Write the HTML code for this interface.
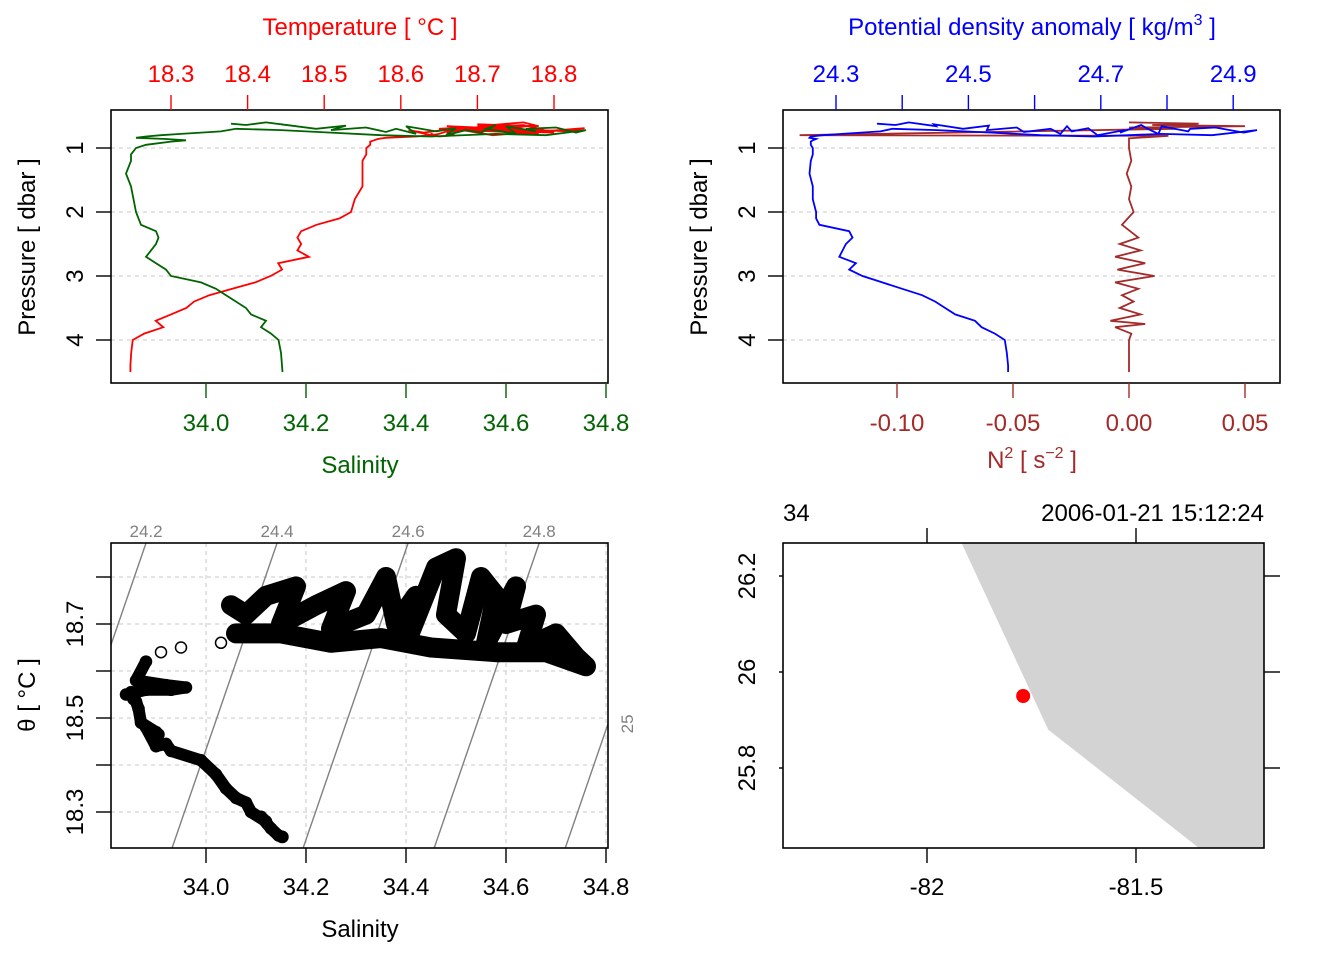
<!DOCTYPE html>
<html><head><meta charset="utf-8"><style>
html,body{margin:0;padding:0;background:#fff}
svg{display:block;font-family:"Liberation Sans",sans-serif}
</style></head><body>
<svg id="root" width="1344" height="960" viewBox="0 0 1344 960" xmlns="http://www.w3.org/2000/svg">
<defs>
<clipPath id="c1"><rect x="111" y="110" width="497" height="273"/></clipPath>
<clipPath id="c2"><rect x="783" y="110" width="497" height="273"/></clipPath>
<clipPath id="c3"><rect x="111" y="543" width="497" height="305"/></clipPath>
<clipPath id="c4"><rect x="783" y="543" width="481" height="305"/></clipPath>
</defs>
<g id="p1"></g>
<g id="p2"></g>
<g id="p3"></g>
<g id="p4"></g>
</svg>
<script>
// ---- profile data ----
const pressure = [0.62,0.64,0.60,0.66,0.63,0.70,0.65,0.72,0.68,0.75,0.70,0.78,0.66,0.74,0.69,0.80,0.72,0.76,0.64,0.70,0.78,0.66,0.74,0.70,0.68,0.76,0.72,0.80,0.78,0.82,0.80,0.76,0.72,0.70,0.74,0.78,0.80,0.82,
 0.84,0.86,0.88,0.90,0.95,1.0,1.1,1.2,1.4,1.6,1.8,2.0,2.1,2.2,2.3,2.4,2.5,2.6,2.7,2.8,2.9,3.0,3.1,3.2,3.3,3.4,3.5,3.6,3.7,3.8,3.9,4.0,4.2,4.4,4.5];
const salinity = [34.05,34.08,34.12,34.18,34.15,34.22,34.28,34.25,34.32,34.36,34.38,34.42,34.40,34.46,34.50,34.48,34.52,34.55,34.58,34.56,34.62,34.60,34.66,34.64,34.70,34.74,34.76,34.68,34.58,34.45,34.35,34.25,34.15,34.06,34.03,33.95,33.91,33.88,
 33.86,33.92,33.96,33.93,33.88,33.86,33.85,33.85,33.84,33.85,33.855,33.86,33.865,33.87,33.90,33.905,33.90,33.89,33.88,33.90,33.92,33.93,33.99,34.02,34.04,34.06,34.08,34.09,34.12,34.11,34.13,34.145,34.15,34.152,34.153];
const temperature = [18.74,18.72,18.76,18.78,18.70,18.74,18.77,18.69,18.72,18.80,18.70,18.76,18.66,18.82,18.84,18.72,18.68,18.80,18.76,18.66,18.78,18.70,18.72,18.65,18.68,18.63,18.61,18.64,18.64,18.65,18.67,18.66,18.68,18.68,18.66,18.65,18.64,18.62,
 18.58,18.57,18.565,18.56,18.56,18.555,18.555,18.55,18.55,18.55,18.54,18.535,18.52,18.49,18.47,18.465,18.47,18.465,18.48,18.44,18.445,18.43,18.41,18.38,18.35,18.33,18.32,18.30,18.28,18.29,18.265,18.25,18.248,18.247,18.247];
const sigmaTheta = [24.362,24.39,24.41,24.451,24.448,24.492,24.531,24.528,24.573,24.584,24.624,24.639,24.649,24.656,24.681,24.695,24.736,24.729,24.761,24.771,24.787,24.792,24.832,24.835,24.873,24.916,24.936,24.868,24.791,24.69,24.609,24.535,24.453,24.385,24.367,24.309,24.28,24.262,
 24.26,24.27,24.265,24.262,24.262,24.265,24.265,24.262,24.26,24.265,24.265,24.27,24.27,24.275,24.32,24.325,24.315,24.31,24.305,24.33,24.32,24.34,24.37,24.40,24.43,24.45,24.465,24.48,24.51,24.52,24.54,24.555,24.558,24.56,24.56];
const n2Pressure = [0.60,0.62,0.64,0.66,0.68,0.70,0.80,0.81,0.85,1.0,1.2,1.4,1.6,1.8,2.0,2.2,2.4,2.5,2.6,2.7,2.8,2.9,3.0,3.1,3.2,3.3,3.4,3.5,3.6,3.7,3.75,3.8,3.9,4.0,4.2,4.5];
const n2 = [0,0.03,0.01,0.05,0.0,0.02,-0.142,0.017,0.0,0.0,0.001,-0.001,0.001,0.0,0.002,-0.003,0.004,-0.004,0.005,-0.006,0.007,-0.005,0.011,-0.006,0.004,-0.003,0.002,-0.004,0.005,-0.008,0.007,-0.006,0.001,0,0,0];
const pTicks = [1,2,3,4];
const tTicks = [18.3,18.4,18.5,18.6,18.7,18.8];
const sTicks = [34.0,34.2,34.4,34.6,34.8];
const sigTicks = [24.3,24.4,24.5,24.6,24.7,24.8,24.9];
const sigLabels = [24.3,24.5,24.7,24.9];
const n2Ticks = [-0.10,-0.05,0.00,0.05];
const thetaTicks = [18.3,18.4,18.5,18.6,18.7,18.8];
const thetaLabels = [18.3,18.5,18.7];
const sigmaLevels = [24.2,24.4,24.6,24.8,25.0];
const lonTicks = [-82,-81.5];
const latTicks = [26.2,26,25.8];
const stationLon = -81.77;
const stationLat = 25.95;
const coastLon = [-81.95,-81.71,-81.33];
const coastLat = [26.33,25.88,25.62];
const NSURF = 38;

// ---- scales ----
const yP = p => 148 + (p-1)*64;
const xS = s => 206 + (s-34)*500;
const xT = t => 171 + (t-18.3)*766;
const xSig = g => 836 + (g-24.3)*662;
const xN = n => 1129 + n*2320;
const yTh = t => 812 - (t-18.3)*470;
const xLon = l => 927 + (l+82)*418;
const yLat = a => 672 - (a-26)*480;

const NS='http://www.w3.org/2000/svg';
function mk(parent, tag, attrs, text){
  const e=document.createElementNS(NS,tag);
  for(const k in attrs) e.setAttribute(k,attrs[k]);
  if(text!==undefined) e.textContent=text;
  parent.appendChild(e); return e;
}
function pathOf(xs, ys){ return xs.map((x,i)=>(i?'L':'M')+x.toFixed(1)+','+ys[i].toFixed(1)).join(''); }
const p1=document.getElementById('p1'),p2=document.getElementById('p2'),p3=document.getElementById('p3'),p4=document.getElementById('p4');
const F=24;

// ===== Panel 1 =====
pTicks.forEach(p=>{
  const g=mk(p1,'line',{x1:111,x2:608,y1:yP(p),y2:yP(p),stroke:'#d3d3d3','stroke-width':1.3,'stroke-dasharray':'4,4'});
  
  
});
const cp1=mk(p1,'g',{'clip-path':'url(#c1)'});
let e=mk(cp1,'path',{d:pathOf(temperature.map(xT),pressure.map(yP)),fill:'none',stroke:'#ff0000','stroke-width':1.8});


e=mk(cp1,'path',{d:pathOf(salinity.map(xS),pressure.map(yP)),fill:'none',stroke:'#006400','stroke-width':1.8});


e=mk(p1,'rect',{x:111,y:110,width:497,height:273,fill:'none',stroke:'#000','stroke-width':1.6});


tTicks.forEach(t=>{
  mk(p1,'line',{x1:xT(t),x2:xT(t),y1:95,y2:110,stroke:'#ff0000','stroke-width':1.4});
  const l=mk(p1,'text',{x:xT(t),y:82,'text-anchor':'middle','font-size':F,fill:'#ff0000'},t.toFixed(1));
  
  
});
e=mk(p1,'text',{x:360,y:35,'text-anchor':'middle','font-size':F,fill:'#ff0000'},'Temperature [ °C ]');


sTicks.forEach(s=>{
  mk(p1,'line',{x1:xS(s),x2:xS(s),y1:383,y2:398,stroke:'#006400','stroke-width':1.4});
  const l=mk(p1,'text',{x:xS(s),y:431,'text-anchor':'middle','font-size':F,fill:'#006400'},s.toFixed(1));
  
  
});
e=mk(p1,'text',{x:360,y:473,'text-anchor':'middle','font-size':F,fill:'#006400'},'Salinity');



function leftAxis(par, ticks, yf, x0, labX, labs){
  ticks.forEach(v=>{
    mk(par,'line',{x1:x0-15,x2:x0,y1:yf(v),y2:yf(v),stroke:'#000','stroke-width':1.4});
  });
  labs.forEach(v=>{
    const l=mk(par,'text',{x:labX,y:yf(v),'text-anchor':'middle','font-size':F,transform:`rotate(-90 ${labX} ${yf(v)})`},String(v));
    
    
  });
}
leftAxis(p1,pTicks,yP,111,83,pTicks);
e=mk(p1,'text',{x:35,y:247,'text-anchor':'middle','font-size':F,transform:'rotate(-90 35 247)'},'Pressure [ dbar ]');



// ===== Panel 2 =====
pTicks.forEach(p=>{
  const g=mk(p2,'line',{x1:783,x2:1280,y1:yP(p),y2:yP(p),stroke:'#d3d3d3','stroke-width':1.3,'stroke-dasharray':'4,4'});
  
  
});
const cp2=mk(p2,'g',{'clip-path':'url(#c2)'});
e=mk(cp2,'path',{d:pathOf(n2.map(xN),n2Pressure.map(yP)),fill:'none',stroke:'#a52a2a','stroke-width':1.8});


e=mk(cp2,'path',{d:pathOf(sigmaTheta.map(xSig),pressure.map(yP)),fill:'none',stroke:'#0000ff','stroke-width':1.8});


e=mk(p2,'rect',{x:783,y:110,width:497,height:273,fill:'none',stroke:'#000','stroke-width':1.6});


sigTicks.forEach(g=>{
  mk(p2,'line',{x1:xSig(g),x2:xSig(g),y1:95,y2:110,stroke:'#0000ff','stroke-width':1.4});
});
sigLabels.forEach(g=>{
  const l=mk(p2,'text',{x:xSig(g),y:82,'text-anchor':'middle','font-size':F,fill:'#0000ff'},g.toFixed(1));
  
  
});
e=mk(p2,'text',{x:1032,y:35,'text-anchor':'middle','font-size':F,fill:'#0000ff'});
e.innerHTML='Potential density anomaly [ kg/m<tspan dy="-10" font-size="16">3</tspan><tspan dy="10"> ]</tspan>';


n2Ticks.forEach(n=>{
  mk(p2,'line',{x1:xN(n),x2:xN(n),y1:383,y2:398,stroke:'#a52a2a','stroke-width':1.4});
  const l=mk(p2,'text',{x:xN(n),y:431,'text-anchor':'middle','font-size':F,fill:'#a52a2a'},n.toFixed(2));
  
  
});
e=mk(p2,'text',{x:1032,y:468,'text-anchor':'middle','font-size':F,fill:'#a52a2a'});
e.innerHTML='N<tspan dy="-10" font-size="16">2</tspan><tspan dy="10"> [ s</tspan><tspan dy="-10" font-size="16">−2</tspan><tspan dy="10"> ]</tspan>';


leftAxis(p2,pTicks,yP,783,755,pTicks);
e=mk(p2,'text',{x:707,y:247,'text-anchor':'middle','font-size':F,transform:'rotate(-90 707 247)'},'Pressure [ dbar ]');



// ===== Panel 3 TS =====
sTicks.forEach(s=>{
  const g=mk(p3,'line',{x1:xS(s),x2:xS(s),y1:543,y2:848,stroke:'#d3d3d3','stroke-width':1.3,'stroke-dasharray':'4,4'});
  
  
});
thetaTicks.forEach(t=>{
  const g=mk(p3,'line',{x1:111,x2:608,y1:yTh(t),y2:yTh(t),stroke:'#d3d3d3','stroke-width':1.3,'stroke-dasharray':'4,4'});
  
  
});
const cp3=mk(p3,'g',{'clip-path':'url(#c3)'});
const sOfSig=(lev,t)=>33.932+(lev-24.4+0.247*(t-18.223))/0.763;
const tTop=18.3+(812-543)/470;
const sRight=(608-206)/500+34;
sigmaLevels.forEach(lev=>{
  const tb=18.1,tt=18.95;
  const l=mk(cp3,'line',{x1:xS(sOfSig(lev,tb)),y1:yTh(tb),x2:xS(sOfSig(lev,tt)),y2:yTh(tt),stroke:'#808080','stroke-width':1.4});
  
  
  const xt=xS(sOfSig(lev,tTop));
  if(xt<608){
    const lb=mk(p3,'text',{x:xt,y:537,'text-anchor':'middle','font-size':17,fill:'#808080'},lev.toFixed(1));
    
    
  } else {
    const tr=18.223+(0.763*(sRight-33.932)-(lev-24.4))/0.247;
    const yr=yTh(tr);
    const lb=mk(p3,'text',{x:633,y:yr,'text-anchor':'middle','font-size':17,fill:'#808080',transform:`rotate(-90 633 ${yr})`},lev===25?'25':String(lev));
    
    
  }
});
const sx=salinity.map(xS), ty=temperature.map(yTh);
e=mk(cp3,'path',{d:pathOf(sx.slice(NSURF-1),ty.slice(NSURF-1)),fill:'none',stroke:'#000','stroke-width':12,'stroke-linecap':'round','stroke-linejoin':'round'});


e=mk(cp3,'path',{d:pathOf(sx.slice(0,NSURF-4),ty.slice(0,NSURF-4)),fill:'none',stroke:'#000','stroke-width':20,'stroke-linecap':'round','stroke-linejoin':'round'});


salinity.forEach((s,i)=>{
  const c=mk(cp3,'circle',{cx:xS(s),cy:yTh(temperature[i]),r:5.5,fill:'none',stroke:'#000','stroke-width':1.5});
  
  
});
e=mk(p3,'rect',{x:111,y:543,width:497,height:305,fill:'none',stroke:'#000','stroke-width':1.6});


sTicks.forEach(s=>{
  mk(p3,'line',{x1:xS(s),x2:xS(s),y1:848,y2:863,stroke:'#000','stroke-width':1.4});
  const l=mk(p3,'text',{x:xS(s),y:895,'text-anchor':'middle','font-size':F},s.toFixed(1));
  
  
});
e=mk(p3,'text',{x:360,y:937,'text-anchor':'middle','font-size':F},'Salinity');


leftAxis(p3,thetaTicks,yTh,111,83,thetaLabels);
e=mk(p3,'text',{x:35,y:695,'text-anchor':'middle','font-size':F,transform:'rotate(-90 35 695)'},'θ [ °C ]');



// ===== Panel 4 map =====
const cp4=mk(p4,'g',{'clip-path':'url(#c4)'});
const pts=coastLon.map((l,i)=>xLon(l).toFixed(1)+','+yLat(coastLat[i]).toFixed(1));
pts.push('1300,900','1300,500');
e=mk(cp4,'polygon',{points:pts.join(' '),fill:'#d3d3d3'});


e=mk(cp4,'circle',{cx:xLon(stationLon),cy:yLat(stationLat),r:7,fill:'#ff0000'});


e=mk(p4,'rect',{x:783,y:543,width:481,height:305,fill:'none',stroke:'#000','stroke-width':1.6});


lonTicks.forEach(l=>{
  mk(p4,'line',{x1:xLon(l),x2:xLon(l),y1:848,y2:863,stroke:'#000','stroke-width':1.4});
  mk(p4,'line',{x1:xLon(l),x2:xLon(l),y1:528,y2:543,stroke:'#000','stroke-width':1.4});
  const t=mk(p4,'text',{x:xLon(l),y:895,'text-anchor':'middle','font-size':F},String(l));
  
  
});
latTicks.forEach(a=>{
  mk(p4,'line',{x1:779,x2:783,y1:yLat(a),y2:yLat(a),stroke:'#000','stroke-width':1.4});
  mk(p4,'line',{x1:1264,x2:1280,y1:yLat(a),y2:yLat(a),stroke:'#000','stroke-width':1.4});
  const x=755,y=yLat(a);
  const t=mk(p4,'text',{x:x,y:y,'text-anchor':'middle','font-size':F,transform:`rotate(-90 ${x} ${y})`},String(a));
  
  
});
e=mk(p4,'text',{x:783,y:521,'font-size':F},'34');


e=mk(p4,'text',{x:1264,y:521,'text-anchor':'end','font-size':F},'2006-01-21 15:12:24');


</script>
</body></html>
